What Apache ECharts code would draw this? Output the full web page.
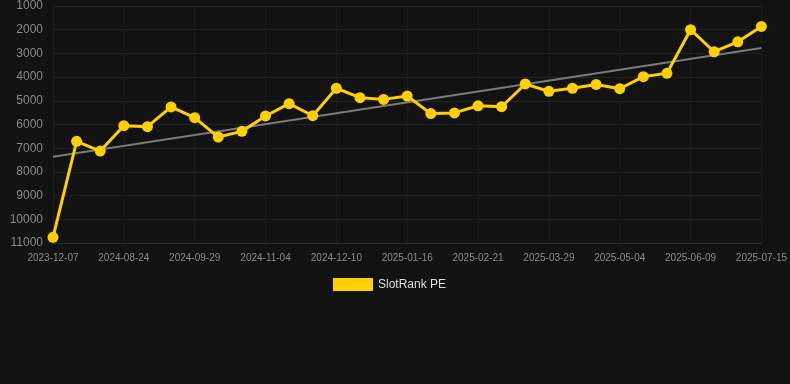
<!DOCTYPE html>
<html>
<head>
<meta charset="utf-8">
<script src="https://cdn.jsdelivr.net/npm/echarts@6/dist/echarts.min.js"></script>
<style>
  html, body { margin: 0; padding: 0; background: #121212; }
  #chart-container { width: 790px; height: 384px; }
</style>
</head>
<body>
<div id="chart-container"></div>
<script>
// dates on the x axis (only every third one is labelled)
var dates = [
  "2023-12-07", "2024-07-31", "2024-08-12", "2024-08-24", "2024-09-05", "2024-09-17",
  "2024-09-29", "2024-10-11", "2024-10-23", "2024-11-04", "2024-11-16", "2024-11-28",
  "2024-12-10", "2024-12-22", "2025-01-04", "2025-01-16", "2025-01-28", "2025-02-09",
  "2025-02-21", "2025-03-05", "2025-03-17", "2025-03-29", "2025-04-10", "2025-04-22",
  "2025-05-04", "2025-05-16", "2025-05-28", "2025-06-09", "2025-06-21", "2025-07-03",
  "2025-07-15"
];

// rank values (lower is better, axis is inverted)
var rankPE = [
  10760, 6710, 7120, 6050, 6090, 5260, 5710, 6530, 6290, 5640, 5120,
  5630, 4470, 4870, 4940, 4800, 5540, 5510, 5210, 5250, 4290, 4600,
  4470, 4310, 4490, 3980, 3840, 2000, 2930, 2510, 1860
];

// trend line end points
var trendStart = 7360;
var trendEnd = 2770;

var chartDom = document.getElementById("chart-container");
var myChart = echarts.init(chartDom);

var option = {
  backgroundColor: "#121212",
  animation: false,
  grid: { left: 53, right: 28, top: 6, bottom: 141 },
  legend: {
    top: 273,
    left: 328,
    itemWidth: 40,
    itemHeight: 13,
    itemGap: 10,
    icon: "rect",
    textStyle: { color: "#dddddd", fontSize: 12, fontFamily: "Liberation Sans, Arial, sans-serif" },
    data: ["SlotRank PE"]
  },
  xAxis: {
    type: "category",
    data: dates,
    boundaryGap: false,
    axisLine: { lineStyle: { color: "#2a2a2a" } },
    axisTick: { show: false },
    axisLabel: {
      interval: 2,
      color: "#8a8a8a",
      fontSize: 10,
      margin: 10,
      fontFamily: "Liberation Sans, Arial, sans-serif"
    },
    splitLine: { show: true, interval: 2, lineStyle: { color: "#1b1b1b" } }
  },
  yAxis: {
    type: "value",
    inverse: true,
    min: 1000,
    max: 11000,
    interval: 1000,
    axisLine: { show: false },
    axisTick: { show: false },
    axisLabel: {
      color: "#8a8a8a",
      fontSize: 12,
      margin: 10,
      formatter: function (v) { return String(v); },
      fontFamily: "Liberation Sans, Arial, sans-serif"
    },
    splitLine: { lineStyle: { color: "#222222" } }
  },
  series: [
    {
      name: "trend",
      type: "line",
      data: [[dates[0], trendStart], [dates[dates.length - 1], trendEnd]],
      symbol: "none",
      lineStyle: { color: "#7a7a7a", width: 2 },
      silent: true,
      z: 1
    },
    {
      name: "SlotRank PE",
      type: "line",
      data: rankPE,
      symbol: "circle",
      symbolSize: 11,
      itemStyle: { color: "#ffd000" },
      lineStyle: { color: "#ffd000", width: 3 },
      z: 2
    }
  ]
};

option && myChart.setOption(option);
</script>
</body>
</html>
